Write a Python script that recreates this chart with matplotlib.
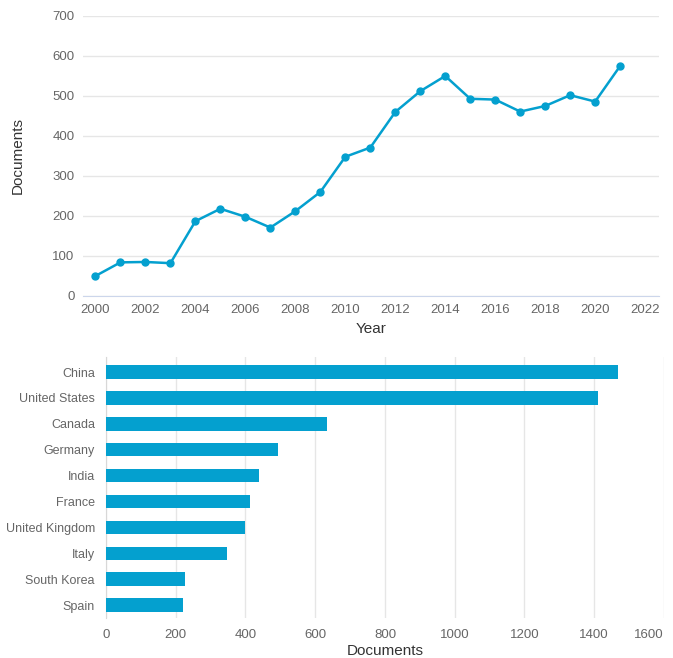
import matplotlib
matplotlib.use('Agg')
import matplotlib.pyplot as plt

# documents per year
years = [2000, 2001, 2002, 2003, 2004, 2005, 2006, 2007, 2008, 2009, 2010,
         2011, 2012, 2013, 2014, 2015, 2016, 2017, 2018, 2019, 2020, 2021]
docs_per_year = [50, 84, 85, 82, 187, 218, 198, 171, 212, 260, 348,
                 371, 460, 512, 550, 493, 491, 461, 475, 502, 486, 575]

# documents per country
countries = ['China', 'United States', 'Canada', 'Germany', 'India', 'France',
             'United Kingdom', 'Italy', 'South Korea', 'Spain']
docs_per_country = [1468, 1410, 635, 494, 439, 413, 400, 347, 226, 222]

blue = '#04a0cf'
grid_col = '#e6e6e6'
tick_col = '#666666'
label_col = '#333333'

plt.rcParams['font.family'] = ['Liberation Sans', 'DejaVu Sans']

fig = plt.figure(figsize=(6.73, 6.58), dpi=100)

# top: line chart
ax1 = fig.add_axes([0.1233, 0.5502, 0.8557, 0.4255])
ax1.plot(years, docs_per_year, color=blue, lw=1.8, marker='o', ms=5, zorder=3)
ax1.set_xlim(1999.5, 2022.55)
ax1.set_ylim(0, 700)
ax1.set_xticks(range(2000, 2023, 2))
ax1.set_yticks(range(0, 701, 100))
ax1.grid(axis='y', color=grid_col, lw=1)
ax1.set_axisbelow(True)
for s in ['top', 'right', 'left']:
    ax1.spines[s].set_visible(False)
ax1.spines['bottom'].set_color('#ccd6eb')
ax1.tick_params(length=0, colors=tick_col, labelsize=9.5, pad=6)
ax1.set_xlabel('Year', fontsize=11, color=label_col, labelpad=4)
ax1.set_ylabel('Documents', fontsize=11, color=label_col, labelpad=20)

# bottom: horizontal bar chart
ax2 = fig.add_axes([0.1575, 0.0608, 0.8291, 0.3966])
pos = list(range(len(countries)))
ax2.barh(pos, docs_per_country, height=0.52, color=blue, zorder=3)
ax2.set_ylim(9.5, -0.58)
ax2.set_xlim(0, 1600)
ax2.set_xticks(range(0, 1601, 200))
ax2.set_yticks(pos)
ax2.set_yticklabels(countries)
ax2.grid(axis='x', color=grid_col, lw=1)
ax2.set_axisbelow(True)
for s in ['top', 'right', 'bottom']:
    ax2.spines[s].set_visible(False)
ax2.spines['left'].set_color('#d8d8d8')
ax2.tick_params(length=0, colors=tick_col)
ax2.tick_params(axis='y', pad=8, labelsize=9)
ax2.tick_params(axis='x', pad=8, labelsize=9.5)
ax2.get_xticklabels()[-1].set_horizontalalignment('right')
ax2.set_xlabel('Documents', fontsize=11, color=label_col, labelpad=2)

fig.savefig('out.png', dpi=100)
